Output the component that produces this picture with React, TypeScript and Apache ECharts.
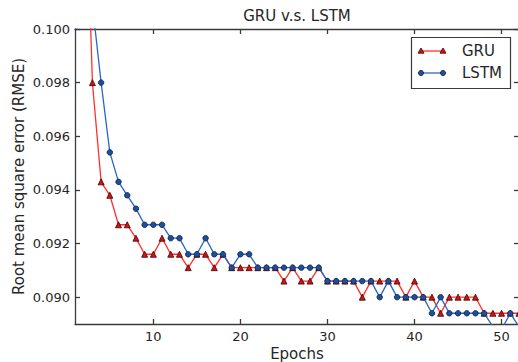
import React, { useEffect, useRef } from "react";
import * as echarts from "echarts";

const epochs = [
  1, 2, 3, 4, 5, 6, 7, 8, 9, 10, 11, 12, 13, 14, 15, 16, 17, 18, 19, 20, 21, 22, 23, 24, 25, 26,
  27, 28, 29, 30, 31, 32, 33, 34, 35, 36, 37, 38, 39, 40, 41, 42, 43, 44, 45, 46, 47, 48, 49, 50, 51, 52,
];

const gruRmse: (number | null)[] = [
  null, 0.1083, 0.098, 0.0943, 0.0938, 0.0927, 0.0927, 0.0922, 0.0916, 0.0916, 0.0922, 0.0916, 0.0916,
  0.0911, 0.0916, 0.0916, 0.0911, 0.0916, 0.0911, 0.0911, 0.0911, 0.0911, 0.0911, 0.0911, 0.0906, 0.0911,
  0.0906, 0.0906, 0.0911, 0.0906, 0.0906, 0.0906, 0.0906, 0.09, 0.0906, 0.0906, 0.0906, 0.0906, 0.09,
  0.0906, 0.09, 0.09, 0.0894, 0.09, 0.09, 0.09, 0.09, 0.0894, 0.0894, 0.0894, 0.0894, 0.0894,
];

const lstmRmse: (number | null)[] = [
  null, null, 0.1009, 0.098, 0.0954, 0.0943, 0.0938, 0.0933, 0.0927, 0.0927, 0.0927, 0.0922, 0.0922,
  0.0916, 0.0916, 0.0922, 0.0916, 0.0916, 0.0911, 0.0916, 0.0916, 0.0911, 0.0911, 0.0911, 0.0911, 0.0911,
  0.0911, 0.0911, 0.0911, 0.0906, 0.0906, 0.0906, 0.0906, 0.0906, 0.0906, 0.09, 0.0906, 0.09, 0.09,
  0.09, 0.09, 0.0894, 0.09, 0.0894, 0.0894, 0.0894, 0.0894, 0.0894, 0.0889, 0.0888, 0.0894, 0.0889,
];

const xTicks = [10, 20, 30, 40, 50];
const yTicks = [0.09, 0.092, 0.094, 0.096, 0.098, 0.1];

const FONT = "DejaVu Sans";
const TEXT = "#262626";
const SPINE = "#3a3a3a";
const RED_LINE = "#ff3030";
const RED_MARK = "#d41414";
const BLUE_LINE = "#2a66c4";
const BLUE_MARK = "#1d4f9c";

export default function App() {
  const ref = useRef<HTMLDivElement>(null);
  useEffect(() => {
    if (!ref.current) return;
    const chart = echarts.init(ref.current, undefined, { renderer: "svg" });
    const gruData = epochs.map((e, i) => [e, gruRmse[i]]);
    const lstmData = epochs.map((e, i) => [e, lstmRmse[i]]);
    const axisLine = { show: true, lineStyle: { color: SPINE, width: 1.3 } };
    const xTick = { show: true, inside: true, length: 5, customValues: xTicks, lineStyle: { color: SPINE, width: 1.3 } };
    const yTick = { show: true, inside: true, length: 5, customValues: yTicks, lineStyle: { color: SPINE, width: 1.3 } };
    const lx = 421;
    const rx = 443;
    const y1 = 51;
    const y2 = 73;
    chart.setOption({
      animation: false,
      backgroundColor: "#ffffff",
      grid: { left: 75, top: 29, right: -1, bottom: 38, containLabel: false, outerBoundsMode: "none" },
      xAxis: [
        {
          type: "value",
          min: 1,
          max: 52,
          position: "bottom",
          axisLine,
          axisTick: xTick,
          splitLine: { show: false },
          axisLabel: {
            customValues: xTicks,
            color: TEXT,
            fontFamily: FONT,
            fontSize: 13,
            margin: 6,
          },
          name: "Epochs",
          nameLocation: "middle",
          nameGap: 22,
          nameMoveOverlap: false,
          nameTextStyle: { color: TEXT, fontFamily: FONT, fontSize: 15 },
        },
        {
          type: "value",
          min: 1,
          max: 52,
          position: "top",
          axisLine,
          axisTick: xTick,
          splitLine: { show: false },
          axisLabel: { show: false },
        },
      ],
      yAxis: [
        {
          type: "value",
          min: 0.089,
          max: 0.1,
          position: "left",
          axisLine,
          axisTick: yTick,
          splitLine: { show: false },
          axisLabel: {
            customValues: yTicks,
            formatter: (v: number) => v.toFixed(3),
            color: TEXT,
            fontFamily: FONT,
            fontSize: 13,
            margin: 5,
          },
          name: "Root mean square error (RMSE)",
          nameLocation: "middle",
          nameGap: 49,
          nameMoveOverlap: false,
          nameTextStyle: { color: TEXT, fontFamily: FONT, fontSize: 15 },
        },
        {
          type: "value",
          min: 0.089,
          max: 0.1,
          position: "right",
          axisLine,
          axisTick: yTick,
          splitLine: { show: false },
          axisLabel: { show: false },
        },
      ],
      series: [
        {
          name: "GRU",
          type: "line",
          data: gruData,
          clip: true,
          symbol: "triangle",
          symbolSize: 6,
          showAllSymbol: true,
          lineStyle: { color: RED_LINE, width: 1.3 },
          itemStyle: { color: RED_MARK, borderColor: "#3a0000", borderWidth: 0.8 },
          z: 3,
        },
        {
          name: "LSTM",
          type: "line",
          data: lstmData,
          clip: true,
          symbol: "circle",
          symbolSize: 5.5,
          showAllSymbol: true,
          lineStyle: { color: BLUE_LINE, width: 1.3 },
          itemStyle: { color: BLUE_MARK, borderColor: "#0d1f40", borderWidth: 0.8 },
          z: 4,
        },
      ],
      graphic: [
        {
          type: "text",
          x: 297,
          y: 16,
          style: {
            text: "GRU v.s. LSTM",
            fill: TEXT,
            font: `15px "${FONT}"`,
            textAlign: "center",
            textVerticalAlign: "middle",
          },
        },
        {
          type: "rect",
          shape: { x: 411.5, y: 37.5, width: 99, height: 51 },
          style: { fill: "#ffffff", stroke: SPINE, lineWidth: 1.2 },
          z: 10,
        },
        {
          type: "line",
          shape: { x1: lx, y1: y1, x2: rx, y2: y1 },
          style: { stroke: RED_LINE, lineWidth: 1.3 },
          z: 11,
        },
        {
          type: "polygon",
          shape: { points: [[lx, y1 - 3], [lx - 3, y1 + 2.2], [lx + 3, y1 + 2.2]] },
          style: { fill: RED_MARK, stroke: "#3a0000", lineWidth: 0.8 },
          z: 12,
        },
        {
          type: "polygon",
          shape: { points: [[rx, y1 - 3], [rx - 3, y1 + 2.2], [rx + 3, y1 + 2.2]] },
          style: { fill: RED_MARK, stroke: "#3a0000", lineWidth: 0.8 },
          z: 12,
        },
        {
          type: "text",
          x: 462,
          y: y1,
          style: { text: "GRU", fill: TEXT, font: `15px "${FONT}"`, textVerticalAlign: "middle" },
          z: 12,
        },
        {
          type: "line",
          shape: { x1: lx, y1: y2, x2: rx, y2: y2 },
          style: { stroke: BLUE_LINE, lineWidth: 1.3 },
          z: 11,
        },
        {
          type: "circle",
          shape: { cx: lx, cy: y2, r: 2.6 },
          style: { fill: BLUE_MARK, stroke: "#0d1f40", lineWidth: 0.8 },
          z: 12,
        },
        {
          type: "circle",
          shape: { cx: rx, cy: y2, r: 2.6 },
          style: { fill: BLUE_MARK, stroke: "#0d1f40", lineWidth: 0.8 },
          z: 12,
        },
        {
          type: "text",
          x: 462,
          y: y2,
          style: { text: "LSTM", fill: TEXT, font: `15px "${FONT}"`, textVerticalAlign: "middle" },
          z: 12,
        },
      ],
    });
    return () => chart.dispose();
  }, []);
  return (
    <div
      ref={ref}
      style={{ position: "absolute", left: 0, top: 0, width: 518, height: 362, background: "#fff" }}
    />
  );
}
